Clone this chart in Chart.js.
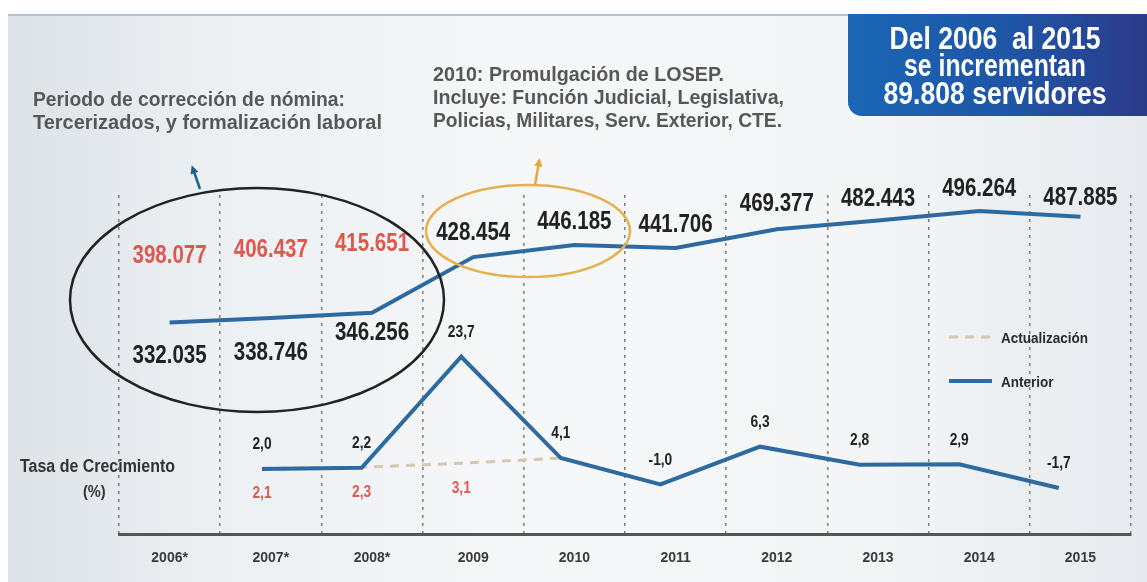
<!DOCTYPE html>
<html lang="es">
<head>
<meta charset="utf-8">
<title>Servidores públicos 2006-2015</title>
<script src="https://cdn.jsdelivr.net/npm/chart.js@4.4.1/dist/chart.umd.min.js"></script>
<style>
  html, body { margin: 0; padding: 0; background: #fff; }
  body { width: 1147px; height: 582px; position: relative; overflow: hidden; }
  #panel {
    position: absolute; left: 8px; top: 14px; right: 0; bottom: 0;
    background: linear-gradient(90deg, #dde2e7 0%, #ecf0f3 18%, #f6f7f9 45%, #f3f5f7 75%, #e6eaee 100%);
    border-top: 2px solid #b3c3d3;
  }
  #chart { position: absolute; left: 0; top: 0; }
</style>
</head>
<body>
<div id="panel"></div>
<canvas id="chart" width="1147" height="582"></canvas>
<script>
// ---- Data ----
const years = ['2006*', '2007*', '2008*', '2009', '2010', '2011', '2012', '2013', '2014', '2015'];
const servidores = [332035, 338746, 346256, 428454, 446185, 441706, 469377, 482443, 496264, 487885];
const servidoresActualizados = [398077, 406437, 415651, null, null, null, null, null, null, null];
const tasaAnterior = [null, 2.0, 2.2, 23.7, 4.1, -1.0, 6.3, 2.8, 2.9, -1.7];
const tasaActualizacion = [null, 2.1, 2.3, 3.1, 4.1, null, null, null, null, null];

// ---- Look ----
const FONT = "'Liberation Sans', Arial, sans-serif";
const BLUE = '#2c6aa0';
const TAN = '#d8c6ae';
const RED = '#e0574c';
// label offsets (px) for the servidores values: below the line for 2006-2008, above after
const upperLabelDy = [34, 35, 20, -24, -23, -23, -25, -21, -22, -19];

const fmtMiles = v => String(v).replace(/\B(?=(\d{3})+(?!\d))/g, '.');
const fmtTasa = v => v.toFixed(1).replace('.', ',');

// bold text squeezed horizontally, either by a fixed factor or to a given width
function narrowText(ctx, text, x, y, o) {
  ctx.save();
  ctx.font = `bold ${o.size}px ${FONT}`;
  const sx = o.width ? o.width / ctx.measureText(text).width : (o.scale || 0.84);
  ctx.translate(x, y);
  ctx.scale(sx, 1);
  ctx.textAlign = o.align || 'center';
  ctx.textBaseline = 'middle';
  ctx.fillStyle = o.color;
  ctx.fillText(text, 0, 0);
  ctx.restore();
}

const headerNotes = {
  id: 'headerNotes',
  beforeDraw(chart) {
    const ctx = chart.ctx;
    // summary box
    ctx.save();
    const g = ctx.createLinearGradient(848, 0, 1147, 0);
    g.addColorStop(0, '#1b66b6');
    g.addColorStop(0.55, '#1f55a5');
    g.addColorStop(1, '#2b3b8a');
    ctx.fillStyle = g;
    ctx.beginPath();
    ctx.roundRect(848, 14, 299, 102, [0, 0, 0, 14]);
    ctx.fill();
    ctx.restore();
    narrowText(ctx, 'Del 2006  al 2015', 995, 40, { size: 31, width: 211, color: '#fff' });
    narrowText(ctx, 'se incrementan', 995, 67, { size: 31, width: 182, color: '#fff' });
    narrowText(ctx, '89.808 servidores', 995, 95, { size: 31, width: 223, color: '#fff' });

    const grey = '#575757';
    narrowText(ctx, 'Periodo de corrección de nómina:', 33, 100, { size: 21, width: 312, color: grey, align: 'left' });
    narrowText(ctx, 'Tercerizados, y formalización laboral', 33, 123, { size: 21, width: 349, color: grey, align: 'left' });
    narrowText(ctx, '2010: Promulgación de LOSEP.', 433, 75, { size: 21, width: 291, color: grey, align: 'left' });
    narrowText(ctx, 'Incluye: Función Judicial, Legislativa,', 433, 98, { size: 21, width: 351, color: grey, align: 'left' });
    narrowText(ctx, 'Policias, Militares, Serv. Exterior, CTE.', 433, 121, { size: 21, width: 349, color: grey, align: 'left' });
  }
};

const annotations = {
  id: 'annotations',
  afterDatasetsDraw(chart) {
    const { ctx, scales: { x, x2, y, y2 } } = chart;

    // servidores values
    servidores.forEach((v, i) => {
      narrowText(ctx, fmtMiles(v), x.getPixelForValue(i), y.getPixelForValue(v) + upperLabelDy[i],
        { size: 25, scale: 0.82, color: '#222' });
    });
    servidoresActualizados.forEach((v, i) => {
      if (v == null) return;
      narrowText(ctx, fmtMiles(v), x.getPixelForValue(i), y.getPixelForValue(v) - 22,
        { size: 25, scale: 0.82, color: RED });
    });

    // growth rates
    tasaAnterior.forEach((v, i) => {
      if (v == null) return;
      narrowText(ctx, fmtTasa(v), x2.getPixelForValue(i), y2.getPixelForValue(v) - 24,
        { size: 16, scale: 0.86, color: '#222' });
    });
    tasaActualizacion.forEach((v, i) => {
      if (v == null || v === tasaAnterior[i]) return;
      narrowText(ctx, fmtTasa(v), x2.getPixelForValue(i), y2.getPixelForValue(v) + 25,
        { size: 16, scale: 0.86, color: RED });
    });

    // row title for the rates
    narrowText(ctx, 'Tasa de Crecimiento', 20, 467, { size: 18, width: 155, color: '#333', align: 'left' });
    narrowText(ctx, '(%)', 83, 492, { size: 17, scale: 0.86, color: '#333', align: 'left' });

    ctx.save();
    // ellipses around the corrected period and 2009-2010
    ctx.lineWidth = 2.5;
    ctx.strokeStyle = '#222';
    ctx.beginPath();
    ctx.ellipse(257, 300, 187, 112, 0, 0, Math.PI * 2);
    ctx.stroke();
    ctx.strokeStyle = '#e6b04c';
    ctx.beginPath();
    ctx.ellipse(528, 231, 102, 46, 0, 0, Math.PI * 2);
    ctx.stroke();

    // pointers from the ellipses to the notes
    const pointer = (x0, y0, x1, y1, color) => {
      ctx.strokeStyle = color;
      ctx.fillStyle = color;
      ctx.lineWidth = 2.5;
      ctx.beginPath();
      ctx.moveTo(x0, y0);
      ctx.lineTo(x1, y1);
      ctx.stroke();
      const a = Math.atan2(y1 - y0, x1 - x0);
      ctx.beginPath();
      ctx.moveTo(x1 + Math.cos(a) * 4, y1 + Math.sin(a) * 4);
      ctx.lineTo(x1 + Math.cos(a + 2.4) * 6, y1 + Math.sin(a + 2.4) * 6);
      ctx.lineTo(x1 + Math.cos(a - 2.4) * 6, y1 + Math.sin(a - 2.4) * 6);
      ctx.closePath();
      ctx.fill();
    };
    pointer(200, 189, 193, 169, '#1f5f96');
    pointer(535, 185, 539, 162, '#e6a83c');

    // legend
    const leg = [
      { ds: chart.data.datasets[2], label: 'Actualización', y: 337 },
      { ds: chart.data.datasets[1], label: 'Anterior', y: 381 }
    ];
    leg.forEach(l => {
      ctx.strokeStyle = l.ds.borderColor;
      ctx.lineWidth = l.ds.borderWidth;
      ctx.setLineDash(l.ds.borderDash || []);
      ctx.beginPath();
      ctx.moveTo(949, l.y);
      ctx.lineTo(992, l.y);
      ctx.stroke();
      ctx.setLineDash([]);
    });
    ctx.restore();
    leg.forEach(l => narrowText(ctx, l.label, 1001, l.y + 2, { size: 15, scale: 0.9, color: '#2a2a2a', align: 'left' }));
  }
};

new Chart(document.getElementById('chart'), {
  type: 'line',
  data: {
    labels: years,
    datasets: [
      {
        label: 'Servidores',
        data: servidores,
        xAxisID: 'x', yAxisID: 'y',
        borderColor: BLUE, borderWidth: 4, pointRadius: 0, tension: 0
      },
      {
        label: 'Anterior',
        data: tasaAnterior.map((v, i) => ({ x: i, y: v })),
        xAxisID: 'x2', yAxisID: 'y2',
        borderColor: BLUE, borderWidth: 4, pointRadius: 0, tension: 0, order: 0
      },
      {
        label: 'Actualización',
        data: tasaActualizacion.map((v, i) => ({ x: i, y: v })),
        xAxisID: 'x2', yAxisID: 'y2',
        borderColor: TAN, borderWidth: 3, borderDash: [9, 7], pointRadius: 0, tension: 0, order: 1
      }
    ]
  },
  options: {
    responsive: false,
    animation: false,
    layout: { padding: { left: 119, right: 16, top: 195, bottom: 0 } },
    plugins: { legend: { display: false }, tooltip: { enabled: false } },
    scales: {
      x: {
        type: 'category',
        offset: true,
        grid: { display: true, offset: true, color: '#7d7d7d', lineWidth: 1.5, drawTicks: false },
        border: { display: true, color: '#555', width: 3, dash: [3, 5] },
        ticks: { color: '#3a3a3a', padding: 17, font: { family: FONT, size: 14, weight: 'bold', lineHeight: 1 } }
      },
      x2: { type: 'linear', display: false, min: -0.436, max: 9.725 },
      y: { type: 'linear', display: false, min: 20000, max: 520000 },
      y2: { type: 'linear', display: false, min: -10.6, max: 55 }
    }
  },
  plugins: [headerNotes, annotations]
});
</script>
</body>
</html>
